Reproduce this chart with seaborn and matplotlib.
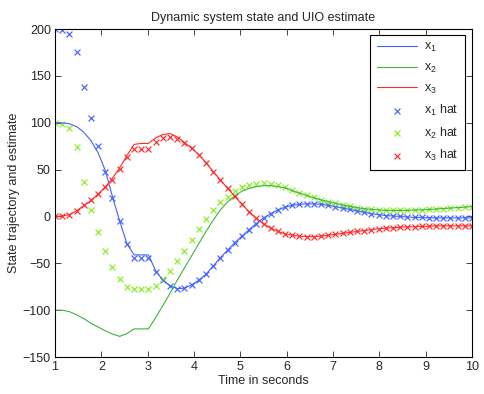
import numpy as np
import pandas as pd
import matplotlib
matplotlib.use("Agg")
import matplotlib.pyplot as plt
import seaborn as sns

# --------------------------------------------------
# Data (59 samples, 1 s .. 10 s)
# --------------------------------------------------
t = [1.000, 1.155, 1.310, 1.466, 1.621, 1.776, 1.931, 2.086, 2.241, 2.397,
     2.552, 2.707, 2.862, 3.017, 3.172, 3.328, 3.483, 3.638, 3.793, 3.948,
     4.103, 4.259, 4.414, 4.569, 4.724, 4.879, 5.034, 5.190, 5.345, 5.500,
     5.655, 5.810, 5.966, 6.121, 6.276, 6.431, 6.586, 6.741, 6.897, 7.052,
     7.207, 7.362, 7.517, 7.672, 7.828, 7.983, 8.138, 8.293, 8.448, 8.603,
     8.759, 8.914, 9.069, 9.224, 9.379, 9.534, 9.690, 9.845, 10.000]

x1 = [100, 100, 99, 96, 90, 81, 68, 49, 21, -5,
      -29, -41, -41, -41, -58, -68, -74, -77, -76.5, -73,
      -68, -61.5, -53, -44, -36, -28, -21, -14, -7.5, -1.5,
      3, 7, 10, 12, 13, 13.5, 13.5, 13, 12, 10.5,
      9, 7.5, 6, 4.5, 3, 2, 1, 0.5, 0, -0.5,
      -1, -1, -1.5, -1.5, -1.5, -1.5, -1.5, -1.5, -1.5]

x2 = [-100, -100, -101.5, -105, -109, -114, -118, -122, -125.5, -128,
      -125, -120, -120, -120, -108, -95, -82, -68, -55, -42,
      -29, -16, -4, 7, 15.5, 22, 27, 30, 32, 33,
      33, 32, 30.5, 27.5, 25, 22.5, 20, 17.7, 16, 14,
      12.5, 11, 9.5, 8.5, 7.5, 7, 6.5, 6.5, 6.5, 6.5,
      7, 7, 7.5, 8, 8.5, 9, 9.5, 10, 10.5]

x3 = [0, 0.5, 2, 6, 11.5, 17, 24, 31.5, 41, 52,
      65, 77, 78, 78, 84, 87.5, 88.5, 85, 79, 73,
      66, 57.5, 48, 39, 30, 21.5, 13, 5, -2, -8,
      -12.5, -16, -18.5, -20, -21, -21.5, -21.5, -21, -20, -19,
      -18, -17, -16, -15, -14, -13, -12.5, -12, -11.5, -11,
      -11, -10.5, -10.5, -10, -10, -10, -10, -10, -10]

x1_hat = [200, 199, 195, 176, 138, 105, 75, 47, 20, -5,
          -29, -44, -44, -44, -59, -68, -74, -77, -76.5, -73,
          -68, -61.5, -53, -44, -36, -28, -21, -14, -7.5, -1.5,
          3, 7, 10, 12, 13, 13.5, 13.5, 13, 12, 10.5,
          9, 7.5, 6, 4.5, 3, 2, 1, 0.5, 0, -0.5,
          -1, -1, -1.5, -1.5, -1.5, -1.5, -1.5, -1.5, -1.5]

x2_hat = [100, 99, 95, 74, 37, 7, -17, -37, -54, -67,
          -75, -77, -77, -77, -74, -67, -58, -48, -37, -25,
          -13, -3, 7, 15.5, 21, 27, 31, 34, 35, 35.5,
          35, 33.5, 31, 28, 25.5, 23, 20.5, 18, 16, 14,
          12.5, 11, 9.5, 8.5, 7.5, 7, 6.5, 6.5, 6.5, 6.5,
          7, 7, 7.5, 8, 8.5, 9, 9.5, 10, 10.5]

x3_hat = [1, 1, 2, 6, 12, 17.5, 24, 31, 39, 50.5,
          63, 72, 72, 72.5, 79, 84, 85, 82.5, 78.5, 73,
          66, 57.5, 48, 39, 30, 21.5, 13, 5, -2, -8,
          -12.5, -16, -18.5, -20, -21, -21.5, -21.5, -21, -20, -19,
          -18, -17, -16, -15, -14, -13, -12.5, -12, -11.5, -11,
          -11, -10.5, -10.5, -10, -10, -10, -10, -10, -10]

line_labels = ["x$_1$", "x$_2$", "x$_3$"]
hat_labels = ["x$_1$ hat", "x$_2$ hat", "x$_3$ hat"]
line_colors = ["#4262ff", "#3cb43c", "#ff2a2a"]
hat_colors = ["#4262ff", "#86ee1e", "#ff2a2a"]

# --------------------------------------------------
# Style
# --------------------------------------------------
sns.set_style("ticks")
plt.rcParams["font.family"] = ["Liberation Sans", "DejaVu Sans"]
plt.rcParams["mathtext.fontset"] = "custom"
plt.rcParams["mathtext.rm"] = "Liberation Sans"
plt.rcParams["mathtext.it"] = "Liberation Sans:italic"
plt.rcParams["font.size"] = 9

fig = plt.figure(figsize=(4.85, 3.94), dpi=100)
ax = fig.add_axes([0.1134, 0.0939, 0.8598, 0.8321])

df = pd.DataFrame({"t": t, "x1": x1, "x2": x2, "x3": x3,
                   "x1_hat": x1_hat, "x2_hat": x2_hat, "x3_hat": x3_hat})

for col, lab, c in zip(["x1", "x2", "x3"], line_labels, line_colors):
    sns.lineplot(data=df, x="t", y=col, ax=ax, color=c, lw=0.8,
                 label=lab, sort=False, estimator=None)

for col, lab, c in zip(["x1_hat", "x2_hat", "x3_hat"], hat_labels, hat_colors):
    sns.scatterplot(data=df, x="t", y=col, ax=ax, color=c, marker="x",
                    s=18, linewidth=0.85, label=lab)

ax.set_xlim(1, 10)
ax.set_ylim(-150, 200)
ax.set_xticks(range(1, 11))
ax.set_yticks(range(-150, 201, 50))
ax.tick_params(direction="in", top=True, right=True, length=4, width=0.6,
               labelsize=9, pad=3)
for sp in ax.spines.values():
    sp.set_linewidth(0.8)
    sp.set_color("black")

ax.set_title("Dynamic system state and UIO estimate", fontsize=9, pad=6)
ax.set_xlabel("Time in seconds", fontsize=9, labelpad=1)
ax.set_ylabel("State trajectory and estimate", fontsize=9, labelpad=2)

leg = ax.legend(loc="upper right", bbox_to_anchor=(0.983, 0.982),
                borderaxespad=0, frameon=True, fancybox=False, framealpha=1,
                edgecolor="black", fontsize=9, handlelength=3.2,
                labelspacing=0.6, borderpad=0.5, handletextpad=0.6)
leg.get_frame().set_linewidth(0.8)

fig.savefig("out.png", dpi=100)
